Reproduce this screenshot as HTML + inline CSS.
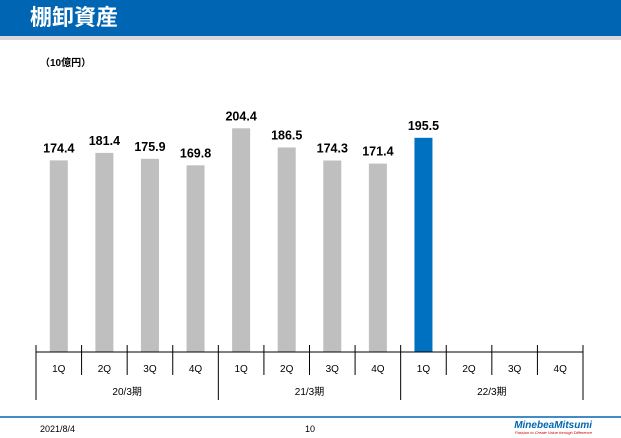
<!DOCTYPE html>
<html><head><meta charset="utf-8"><style>
body{margin:0;width:621px;height:438px;overflow:hidden;background:#fff;font-family:"Liberation Sans","Noto Sans CJK JP",sans-serif;position:relative}
.hdr{position:absolute;left:0;top:0;width:621px;height:36px;background:#0066b3}
.band{position:absolute;left:0;top:36px;width:621px;height:4px;background:#d9d9d9}
.title{position:absolute;left:30px;top:6px;color:#fff;font-size:22px;font-weight:bold;line-height:24px}
.unit{position:absolute;left:40px;top:54px;font-size:10px;font-weight:bold}
</style></head><body>
<div class="hdr"></div>
<div class="band"></div>
<div class="title">棚卸資産</div>
<div class="unit">（10億円）</div>
<svg id="chart" width="621" height="438" style="position:absolute;left:0;top:0"></svg>
<script>
const categories=["1Q","2Q","3Q","4Q","1Q","2Q","3Q","4Q","1Q","2Q","3Q","4Q"];
const periods=["20/3期","21/3期","22/3期"];
const values=[174.4,181.4,175.9,169.8,204.4,186.5,174.3,171.4,195.5,null,null,null];
const labels=["174.4","181.4","175.9","169.8","204.4","186.5","174.3","171.4","195.5","","",""];
const highlight=[false,false,false,false,false,false,false,false,true,false,false,false];
const svg=document.getElementById('chart');
const NS='http://www.w3.org/2000/svg';
const x0=36,x1=583,axisY=352,slot=(x1-x0)/categories.length;
function xc(i){return x0+slot*(i+0.5);}
function y(v){return 347-v*1.07;}
function mk(t,a,txt){const e=document.createElementNS(NS,t);for(const k in a)e.setAttribute(k,a[k]);if(txt!=null)e.textContent=txt;svg.appendChild(e);return e;}
values.forEach((v,i)=>{
  if(v==null)return;
  const r=mk('rect',{x:xc(i)-9,y:y(v),width:18,height:axisY-y(v),fill:highlight[i]?'#0070c0':'#bfbfbf'});
  
  
  const t=mk('text',{x:xc(i),y:y(v)-8,'text-anchor':'middle','font-size':'12.5','font-weight':'bold',fill:'#000'},labels[i]);
  
  
});
const ax=mk('line',{x1:x0,y1:axisY,x2:x1,y2:axisY,stroke:'#000','stroke-width':1});


for(let i=0;i<=categories.length;i++){
  const xx=x0+slot*i, big=(i%4===0);
  const l=mk('line',{x1:xx,y1:345,x2:xx,y2:big?400:375,stroke:'#000','stroke-width':1});
  
  
}
categories.forEach((c,i)=>{
  const t=mk('text',{x:xc(i),y:372,'text-anchor':'middle','font-size':'10'},c);
  
  
});
periods.forEach((p,i)=>{
  const t=mk('text',{x:x0+slot*(4*i+2),y:395,'text-anchor':'middle','font-size':'10'},p);
  
  
});
const fl=mk('line',{x1:0,y1:417,x2:621,y2:417,stroke:'#0066b3','stroke-width':1.5});


const d=mk('text',{x:40,y:432,'font-size':'9'},'2021/8/4');


const pg=mk('text',{x:310,y:432,'text-anchor':'middle','font-size':'9'},'10');


const lg=mk('text',{x:592,y:428,'text-anchor':'end','font-size':'10','font-weight':'bold','font-style':'italic',fill:'#0066b3'},'MinebeaMitsumi');


const tg=mk('text',{x:592,y:434,'text-anchor':'end','font-size':'4','font-style':'italic',fill:'#c00000'},'Passion to Create Value through Difference');


</script>
</body></html>
